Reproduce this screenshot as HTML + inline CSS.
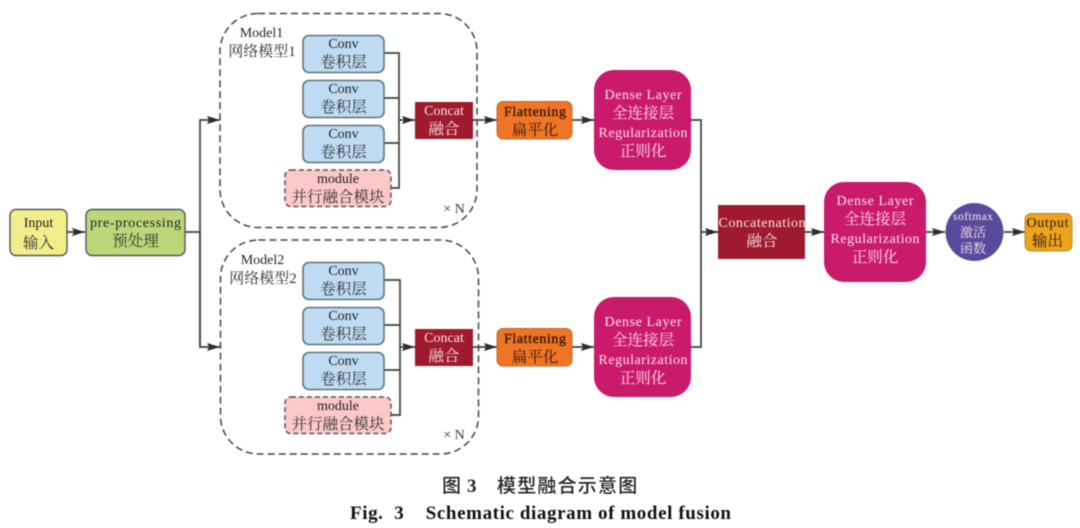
<!DOCTYPE html>
<html><head><meta charset="utf-8"><style>
html,body{margin:0;padding:0;background:#fff}
svg{display:block;filter:blur(0.45px)}
text{font-family:"Liberation Serif","Noto Serif CJK SC",serif;text-anchor:middle}
.e{font-size:14px;fill:#222}
.c{font-size:15.5px;fill:#333}
.w{fill:#fbe3ea}
.l{stroke:#3f3f3f;stroke-width:1.7;fill:none}
.d{stroke:#444;stroke-width:1.5;fill:none;stroke-dasharray:7 4}
.b{fill:#bfdcf2;stroke:#5d7383;stroke-width:1.6}
.m{fill:#fcc8c8;stroke:#555;stroke-width:1.5;stroke-dasharray:5 3}
.k{fill:#9f1a2c}
.f{fill:#ee7526;stroke:#c9662a;stroke-width:1}
.p{fill:#ca1a6c}
.t{fill:#2a0f03;stroke:#2a0f03;stroke-width:0.25}
</style></head><body>
<svg width="1080" height="528" viewBox="0 0 1080 528" xmlns="http://www.w3.org/2000/svg">
<defs><marker id="a" markerUnits="userSpaceOnUse" markerWidth="14" markerHeight="9" refX="13" refY="4.500" orient="auto"><path d="M0 0.500L13 4.500L0 8.500L2 4.500Z" fill="#2c2c2c"/></marker></defs>

<!-- connectors -->
<path class="l" d="M67 232H85" marker-end="url(#a)"/>
<path class="l" d="M185 232H200"/>
<path class="l" d="M200 347V120H220" marker-end="url(#a)"/>
<path class="l" d="M200 232V347H220" marker-end="url(#a)"/>
<path class="l" d="M384 53H399V188H390M384 98H399M384 143H399"/>
<path class="l" d="M399 120H415" marker-end="url(#a)"/>
<path class="l" d="M473 120H497" marker-end="url(#a)"/>
<path class="l" d="M572 120H594" marker-end="url(#a)"/>
<path class="l" d="M384 280H400V415H390M384 325H400M384 370H400"/>
<path class="l" d="M400 347H415" marker-end="url(#a)"/>
<path class="l" d="M473 347H497" marker-end="url(#a)"/>
<path class="l" d="M572 347H594" marker-end="url(#a)"/>
<path class="l" d="M691 120H701V347H691"/>
<path class="l" d="M701 232H718" marker-end="url(#a)"/>
<path class="l" d="M805 232H824" marker-end="url(#a)"/>
<path class="l" d="M926 232H945" marker-end="url(#a)"/>
<path class="l" d="M1004 232H1025" marker-end="url(#a)"/>

<!-- dashed containers -->
<rect class="d" x="220" y="13.500" width="257" height="214" rx="38"/>
<rect class="d" x="220.500" y="240" width="258" height="214" rx="38"/>

<!-- input -->
<rect x="10" y="209.500" width="57" height="46" rx="6" fill="#f3ee8c" stroke="#555" stroke-width="1.4"/>
<text class="e" x="38.500" y="227">Input</text><text class="c" x="38.500" y="248">输入</text>
<rect x="86" y="209.500" width="99" height="46" rx="6" fill="#bcd67a" stroke="#555" stroke-width="1.4"/>
<text class="e" x="135.500" y="227" textLength="91">pre-processing</text><text class="c" x="135.500" y="246">预处理</text>

<!-- model 1 -->
<text class="e" x="261.500" y="37">Model1</text>
<text class="c" x="262" y="56" style="font-size:15px">网络模型1</text>
<rect class="b" x="303" y="35.500" width="81" height="37" rx="6"/>
<text class="e" x="343.500" y="48">Conv</text><text class="c" x="343.500" y="67">卷积层</text>
<rect class="b" x="303" y="80.500" width="81" height="37" rx="6"/>
<text class="e" x="343.500" y="93">Conv</text><text class="c" x="343.500" y="112">卷积层</text>
<rect class="b" x="303" y="125.500" width="81" height="37" rx="6"/>
<text class="e" x="343.500" y="138">Conv</text><text class="c" x="343.500" y="157">卷积层</text>
<rect class="m" x="285" y="170" width="106" height="36.500" rx="6"/>
<text class="e" x="338" y="183">module</text><text class="c" x="338" y="202">并行融合模块</text>
<rect class="k" x="415" y="102" width="58" height="37"/>
<text class="e w" x="444" y="115">Concat</text><text class="c w" x="444" y="134">融合</text>
<rect class="f" x="497" y="101.500" width="75" height="37.500" rx="6"/>
<text class="e t" x="535" y="116" textLength="62">Flattening</text><text class="c" x="535" y="135" style="fill:#3a1505">扁平化</text>
<rect class="p" x="594" y="70" width="97" height="100" rx="20"/>
<text class="e w" x="643" y="99" textLength="77">Dense Layer</text><text class="c w" x="643" y="118">全连接层</text>
<text class="e w" x="643" y="137" textLength="89">Regularization</text><text class="c w" x="643" y="156">正则化</text>
<text x="454" y="213" style="font-size:14px;fill:#333">× N</text>

<!-- model 2 -->
<text class="e" x="262.500" y="264">Model2</text>
<text class="c" x="263" y="283" style="font-size:15px">网络模型2</text>
<rect class="b" x="303" y="262.500" width="81" height="37" rx="6"/>
<text class="e" x="343.500" y="275">Conv</text><text class="c" x="343.500" y="294">卷积层</text>
<rect class="b" x="303" y="307.500" width="81" height="37" rx="6"/>
<text class="e" x="343.500" y="320">Conv</text><text class="c" x="343.500" y="339">卷积层</text>
<rect class="b" x="303" y="352.500" width="81" height="37" rx="6"/>
<text class="e" x="343.500" y="365">Conv</text><text class="c" x="343.500" y="384">卷积层</text>
<rect class="m" x="285" y="397" width="106" height="36.500" rx="6"/>
<text class="e" x="338" y="410">module</text><text class="c" x="338" y="429">并行融合模块</text>
<rect class="k" x="415" y="329" width="58" height="37"/>
<text class="e w" x="444" y="342">Concat</text><text class="c w" x="444" y="361">融合</text>
<rect class="f" x="497" y="328.500" width="75" height="37.500" rx="6"/>
<text class="e t" x="535" y="343" textLength="62">Flattening</text><text class="c" x="535" y="362" style="fill:#3a1505">扁平化</text>
<rect class="p" x="594" y="297" width="97" height="100" rx="20"/>
<text class="e w" x="643" y="326" textLength="77">Dense Layer</text><text class="c w" x="643" y="345">全连接层</text>
<text class="e w" x="643" y="364" textLength="89">Regularization</text><text class="c w" x="643" y="383">正则化</text>
<text x="454" y="439" style="font-size:14px;fill:#333">× N</text>

<!-- right side -->
<rect class="k" x="718" y="205" width="87" height="54"/>
<text class="e w" x="762" y="227" textLength="87">Concatenation</text><text class="c w" x="762" y="246">融合</text>
<rect class="p" x="824" y="182" width="102" height="100" rx="20"/>
<text class="e w" x="875" y="205" textLength="77">Dense Layer</text><text class="c w" x="875" y="224">全连接层</text>
<text class="e w" x="875" y="243" textLength="89">Regularization</text><text class="c w" x="875" y="262">正则化</text>
<circle cx="974.500" cy="232" r="29" fill="#5a4a9c"/>
<text class="w" x="973" y="220" style="font-size:11.500px" textLength="40">softmax</text>
<text class="w" x="973" y="237" style="font-size:13px">激活</text>
<text class="w" x="973" y="253" style="font-size:13px">函数</text>
<rect x="1025" y="213.500" width="47" height="37.500" rx="6" fill="#eda31c" stroke="#b98a2a" stroke-width="1"/>
<text class="e" x="1047.500" y="227" style="fill:#2a1c05" textLength="42">Output</text><text class="c" x="1047.500" y="246" style="fill:#2a1c05">输出</text>

<!-- captions -->
<text y="492" style="font-size:19px;fill:#222;font-family:'Liberation Sans','Noto Sans CJK SC',sans-serif;text-anchor:start;font-weight:500"><tspan x="442">图</tspan><tspan x="467" style="font-weight:bold;font-family:'Liberation Serif'">3</tspan><tspan x="497" letter-spacing="1.200">模型融合示意图</tspan></text>
<text x="540.500" y="519" style="font-size:19px;font-weight:bold;fill:#111" textLength="381" xml:space="preserve">Fig.  3    Schematic diagram of model fusion</text>
</svg>
</body></html>
